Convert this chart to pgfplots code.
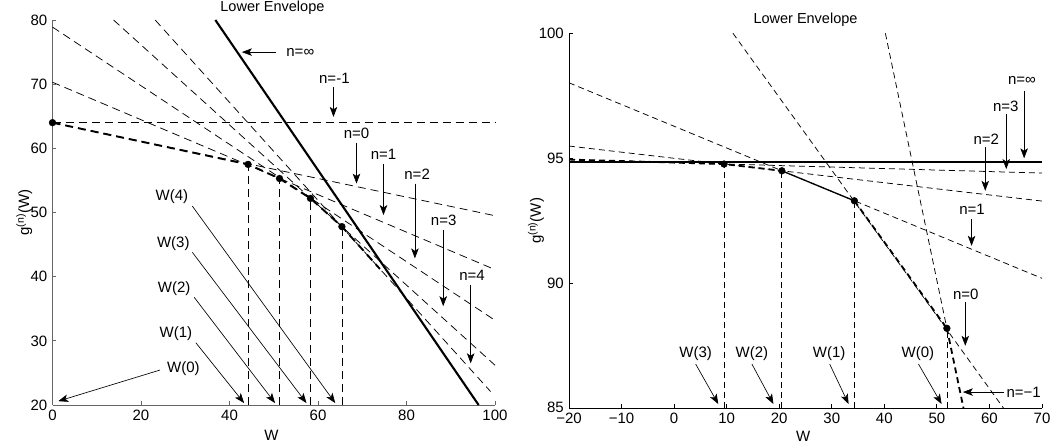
\documentclass[border=0pt]{standalone}
\usepackage{fontspec}
\setmainfont{Liberation Sans}
\usepackage{pgfplots}
\pgfplotsset{compat=1.18}
\usetikzlibrary{arrows.meta}
\begin{document}
\fontsize{15}{17}\selectfont
\begin{tikzpicture}[
  thn/.style={black, line width=0.75pt, dash pattern=on 8pt off 5pt},
  thk/.style={black, line width=1.9pt, dash pattern=on 8pt off 5pt},
  rthn/.style={black, line width=0.75pt, dash pattern=on 6pt off 4pt},
  rthk/.style={black, line width=1.8pt, dash pattern=on 6pt off 4pt},
  arr/.style={-{Stealth[length=10pt,width=7.5pt,inset=2.5pt]}, line width=0.65pt, black},
]
\useasboundingbox (0,0) rectangle (1051pt,-447pt);
\pgfplotsset{
  common/.style={
    scale only axis, clip=false,
    axis x line*=bottom, axis y line*=left,
    tick align=inside, major tick length=4pt,
    /pgf/number format/assume math mode=true,
    ticklabel style={font=\fontsize{15}{17}\selectfont},
    label style={font=\fontsize{15}{17}\selectfont},
    title style={font=\fontsize{14.5}{17}\selectfont},
  }
}
% ---------------- left panel ----------------
\begin{axis}[common,
  at={(52.5pt,-405pt)}, anchor=south west,
  width=442.5pt, height=385pt,
  xmin=0, xmax=100, ymin=20, ymax=80,
  xtick={0,20,40,60,80,100}, xticklabels={0,20,40,60,80,100},
  ytick={20,30,40,50,60,70,80}, yticklabels={20,30,40,50,60,70,80},
  axis line style={black!60, line width=0.9pt},
  tick style={black!60, line width=0.9pt},
  xlabel={W}, ylabel={g\textsuperscript{(n)}(W)},
  xlabel style={at={(axis description cs:0.495,-0.08)}, anchor=center},
  ylabel style={at={(axis description cs:-0.064,0.5)}, anchor=center},
  title={Lower Envelope},
  title style={at={(axis description cs:0.497,1)}, anchor=base, yshift=2.3pt},
]
% lines n=-1 ... n=4
\addplot[thn] coordinates {(0,64) (100,64)};
\addplot[thn] coordinates {(0,64) (100,49.5)};
\addplot[thn] coordinates {(0,70.3) (100,41.1)};
\addplot[thn] coordinates {(0,78.9) (100,33.2)};
\addplot[thn] coordinates {(13.8,80) (100,26.2)};
\addplot[thn] coordinates {(23.2,80) (99,22.1)};
% n = infinity
\addplot[black, line width=2.1pt] coordinates {(36.8,80) (96.3,20)};
% vertical dashed lines
\addplot[thn] coordinates {(44.2,20) (44.2,57.5)};
\addplot[thn] coordinates {(51.3,20) (51.3,55.3)};
\addplot[thn] coordinates {(58.3,20) (58.3,52.2)};
\addplot[thn] coordinates {(65.4,20) (65.4,47.8)};
% envelope iteration
\addplot[thk] coordinates {(0,64) (44.2,57.5) (51.3,55.3) (58.3,52.2) (65.4,47.8) (74,41.2)};
\addplot[only marks, mark=*, mark size=3.4pt, black] coordinates {(0,64) (44.2,57.5) (51.3,55.3) (58.3,52.2) (65.4,47.8)};
% annotations
\node at (axis cs:56,75) {n=∞};
\draw[arr] (axis cs:50.6,75) -- (axis cs:42.8,75);
\node at (axis cs:63.7,70.9) {n=-1};
\draw[arr] (axis cs:63.5,69.5) -- (axis cs:63.5,64.9);
\node at (axis cs:68.7,62.3) {n=0};
\draw[arr] (axis cs:68.7,60.8) -- (axis cs:68.7,54.5);
\node at (axis cs:74.8,59.1) {n=1};
\draw[arr] (axis cs:74.8,57.6) -- (axis cs:74.8,49.6);
\node at (axis cs:82.4,56.0) {n=2};
\draw[arr] (axis cs:81.9,54.5) -- (axis cs:81.9,42.85);
\node at (axis cs:88.4,48.8) {n=3};
\draw[arr] (axis cs:88.3,47.3) -- (axis cs:88.3,35.4);
\node at (axis cs:94.8,40.2) {n=4};
\draw[arr] (axis cs:94.5,38.7) -- (axis cs:94.5,26.5);
\node at (axis cs:29.6,25.7) {W(0)};
\draw[arr] (axis cs:24.3,25.45) -- (axis cs:1.3,20.6);
\node at (axis cs:27.9,31.2) {W(1)};
\draw[arr] (axis cs:32.4,29.7) -- (axis cs:43.3,20.3);
\node at (axis cs:27.5,38.2) {W(2)};
\draw[arr] (axis cs:32.0,36.8) -- (axis cs:50.3,20.3);
\node at (axis cs:27.3,45.2) {W(3)};
\draw[arr] (axis cs:31.6,43.8) -- (axis cs:57.4,20.3);
\node at (axis cs:27.0,52.4) {W(4)};
\draw[arr] (axis cs:31.6,51.0) -- (axis cs:63.9,20.3);
\end{axis}
% ---------------- right panel ----------------
\begin{axis}[common,
  at={(569pt,-408.3pt)}, anchor=south west,
  width=473pt, height=375pt,
  xmin=-20, xmax=70, ymin=85, ymax=100,
  xtick={-20,-10,0,10,20,30,40,50,60,70},
  xticklabels={−20,−10,0,10,20,30,40,50,60,70},
  ytick={85,90,95,100}, yticklabels={\raisebox{2.5pt}{85},90,95,100},
  axis line style={black, line width=0.9pt},
  tick style={black, line width=0.9pt},
  xlabel={W}, ylabel={g\textsuperscript{(n)}(W)},
  xlabel style={at={(axis description cs:0.495,-0.0757)}, anchor=center},
  ylabel style={at={(axis description cs:-0.07,0.5)}, anchor=center},
  title={Lower Envelope},
  title style={at={(axis description cs:0.5,1)}, anchor=base, yshift=4pt},
]
\addplot[rthn] coordinates {(-20,94.95) (70,94.41)};
\addplot[rthn] coordinates {(-20,95.49) (70,93.29)};
\addplot[rthn] coordinates {(-20,98.02) (70,90.2)};
\addplot[rthn] coordinates {(11.2,100) (62.7,85)};
\addplot[rthn] coordinates {(40.2,100) (51.9,88.2)};
\addplot[rthk] coordinates {(51.9,88.2) (55.07,85)};
% n = infinity
\addplot[black, line width=1.8pt] coordinates {(-20,94.84) (70,94.84)};
% vertical dashed
\addplot[rthn] coordinates {(9.5,85) (9.5,94.77)};
\addplot[rthn] coordinates {(20.5,85) (20.5,94.5)};
\addplot[rthn] coordinates {(34.3,85) (34.3,93.3)};
\addplot[rthn] coordinates {(51.9,85) (51.9,88.2)};
% envelope iteration
\addplot[rthk] coordinates {(-20,94.95) (9.5,94.77) (20.5,94.5)};
\addplot[black, line width=1.3pt] coordinates {(20.5,94.5) (34.3,93.3)};
\addplot[rthk] coordinates {(34.3,93.3) (51.9,88.2)};
\addplot[only marks, mark=*, mark size=3.4pt, black] coordinates {(9.5,94.77) (20.5,94.5) (34.3,93.3) (51.9,88.2)};
% annotations
\node at (axis cs:66.2,98.13) {n=∞};
\draw[arr] (axis cs:66.6,97.7) -- (axis cs:66.6,95.0);
\node at (axis cs:63.1,97.08) {n=3};
\draw[arr] (axis cs:63.2,96.77) -- (axis cs:63.2,94.57);
\node at (axis cs:59.4,95.77) {n=2};
\draw[arr] (axis cs:59.2,95.44) -- (axis cs:59.2,93.7);
\node at (axis cs:56.7,92.97) {n=1};
\draw[arr] (axis cs:56.6,92.57) -- (axis cs:56.6,91.5);
\node at (axis cs:55.5,89.57) {n=0};
\draw[arr] (axis cs:55.4,89.24) -- (axis cs:55.4,87.5);
\node at (axis cs:66.5,85.65) {n=−1};
\draw[arr] (axis cs:62.7,85.65) -- (axis cs:54.95,85.65);
\node at (axis cs:4.1,87.2) {W(3)};
\draw[arr] (axis cs:4.1,86.77) -- (axis cs:8.4,85.17);
\node at (axis cs:14.8,87.2) {W(2)};
\draw[arr] (axis cs:14.8,86.77) -- (axis cs:18.9,85.17);
\node at (axis cs:29.5,87.2) {W(1)};
\draw[arr] (axis cs:29.6,86.77) -- (axis cs:33.2,85.17);
\node at (axis cs:46.4,87.2) {W(0)};
\draw[arr] (axis cs:46.5,86.77) -- (axis cs:50.9,85.17);
\end{axis}
\end{tikzpicture}
\end{document}
